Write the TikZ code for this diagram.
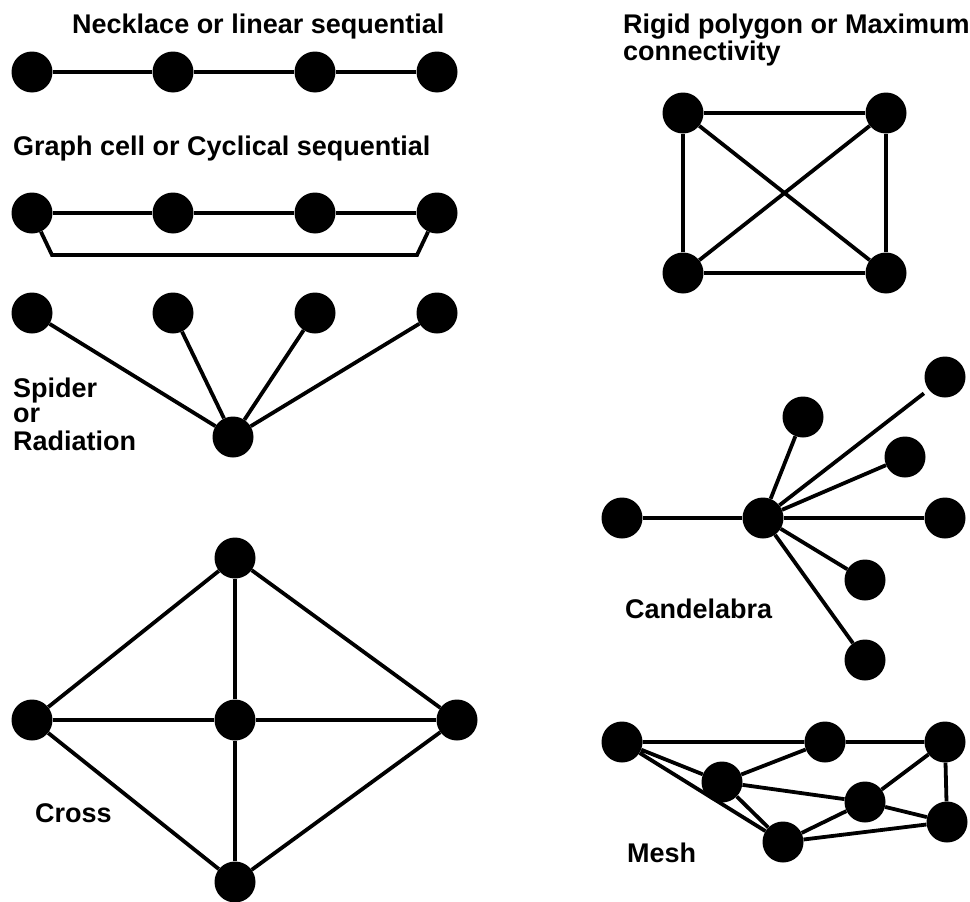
\documentclass[tikz,border=0pt]{standalone}
\usepackage{fontspec}
\setmainfont{Liberation Sans}
\begin{document}
\begin{tikzpicture}[x=1pt,y=-1pt,
  dot/.style={circle,fill=black,minimum size=41pt,inner sep=0pt},
  edge/.style={line width=3.8pt},
  lbl/.style={anchor=base west,inner sep=0pt,font=\fontsize{27}{27}\selectfont\bfseries}]
\useasboundingbox (0,0) rectangle (970,902);

% ---------- Necklace ----------
\node[lbl] (tneck) at (72,33) {Necklace or linear sequential};
\node[dot] (n1) at (32,72) {};
\node[dot] (n2) at (173,72) {};
\node[dot] (n3) at (315,72) {};
\node[dot] (n4) at (437,72) {};
\draw[edge] (n1) -- (n2) -- (n3) -- (n4);

% ---------- Graph cell ----------
\node[lbl] (tcell) at (13,155) {Graph cell or Cyclical sequential};
\node[dot] (g1) at (32,213) {};
\node[dot] (g2) at (173,213) {};
\node[dot] (g3) at (315,213) {};
\node[dot] (g4) at (437,213) {};
\coordinate (gl) at (52,255);
\coordinate (gr) at (417,255);
\draw[edge] (g1) -- (g2) -- (g3) -- (g4);
\draw[edge,line join=miter] (g1) -- (gl) -- (gr) -- (g4);

% ---------- Spider ----------
\node[dot] (s1) at (32,313) {};
\node[dot] (s2) at (173,313) {};
\node[dot] (s3) at (315,313) {};
\node[dot] (s4) at (437,313) {};
\node[dot] (sh) at (233,437) {};
\draw[edge] (s1) -- (sh) (s2) -- (sh) (s3) -- (sh) (s4) -- (sh);
\node[lbl] (tsp1) at (13,397) {Spider};
\node[lbl] (tsp2) at (13,422) {or};
\node[lbl] (tsp3) at (13,450) {Radiation};

% ---------- Cross ----------
\node[dot] (ct) at (235,558) {};
\node[dot] (cl) at (32,720) {};
\node[dot] (cc) at (235,720) {};
\node[dot] (cr) at (457,720) {};
\node[dot] (cb) at (235,882) {};
\draw[edge] (cl) -- (ct) -- (cr) -- (cb) -- (cl);
\draw[edge] (ct) -- (cc) -- (cb);
\draw[edge] (cl) -- (cc) -- (cr);
\node[lbl] (tcross) at (35,822) {Cross};

% ---------- Rigid polygon ----------
\node[lbl] (trig1) at (623,33) {Rigid polygon or Maximum};
\node[lbl] (trig2) at (623,60) {connectivity};
\node[dot] (r1) at (683,113) {};
\node[dot] (r2) at (886,113) {};
\node[dot] (r3) at (683,273) {};
\node[dot] (r4) at (886,273) {};
\draw[edge] (r1) -- (r2) -- (r4) -- (r3) -- (r1);
\draw[edge] (r1) -- (r4) (r2) -- (r3);

% ---------- Candelabra ----------
\node[dot] (kh) at (763,518) {};
\node[dot] (kl) at (622,518) {};
\node[dot] (kr) at (945,518) {};
\node[dot] (kt1) at (803,417) {};
\node[dot] (kt2) at (945,377) {};
\node[dot] (kt3) at (905,457) {};
\node[dot] (kb1) at (865,580) {};
\node[dot] (kb2) at (865,660) {};
\draw[edge] (kl) -- (kh) -- (kr);
\draw[edge] (kh) -- (kt1) (kh) -- (kt3) (kh) -- (kb1) (kh) -- (kb2);
\draw[edge,shorten >=6pt] (kh) -- (kt2);
\node[lbl] (tcand) at (625,618) {Candelabra};

% ---------- Mesh ----------
\node[dot] (ma) at (622,742) {};
\node[dot] (mb) at (825,742) {};
\node[dot] (mc) at (945,742) {};
\node[dot] (md) at (722,782) {};
\node[dot] (me) at (865,802) {};
\node[dot] (mf) at (947,822) {};
\node[dot] (mg) at (783,842) {};
\draw[edge] (ma) -- (mb) -- (mc) -- (mf);
\draw[edge] (ma) -- (md) (ma) -- (mg);
\draw[edge] (md) -- (mb) (md) -- (me) (md) -- (mg);
\draw[edge] (me) -- (mc) (me) -- (mf);
\draw[edge] (mg) -- (me) (mg) -- (mf);
\node[lbl] (tmesh) at (627,862) {Mesh};
\end{tikzpicture}
\end{document}
